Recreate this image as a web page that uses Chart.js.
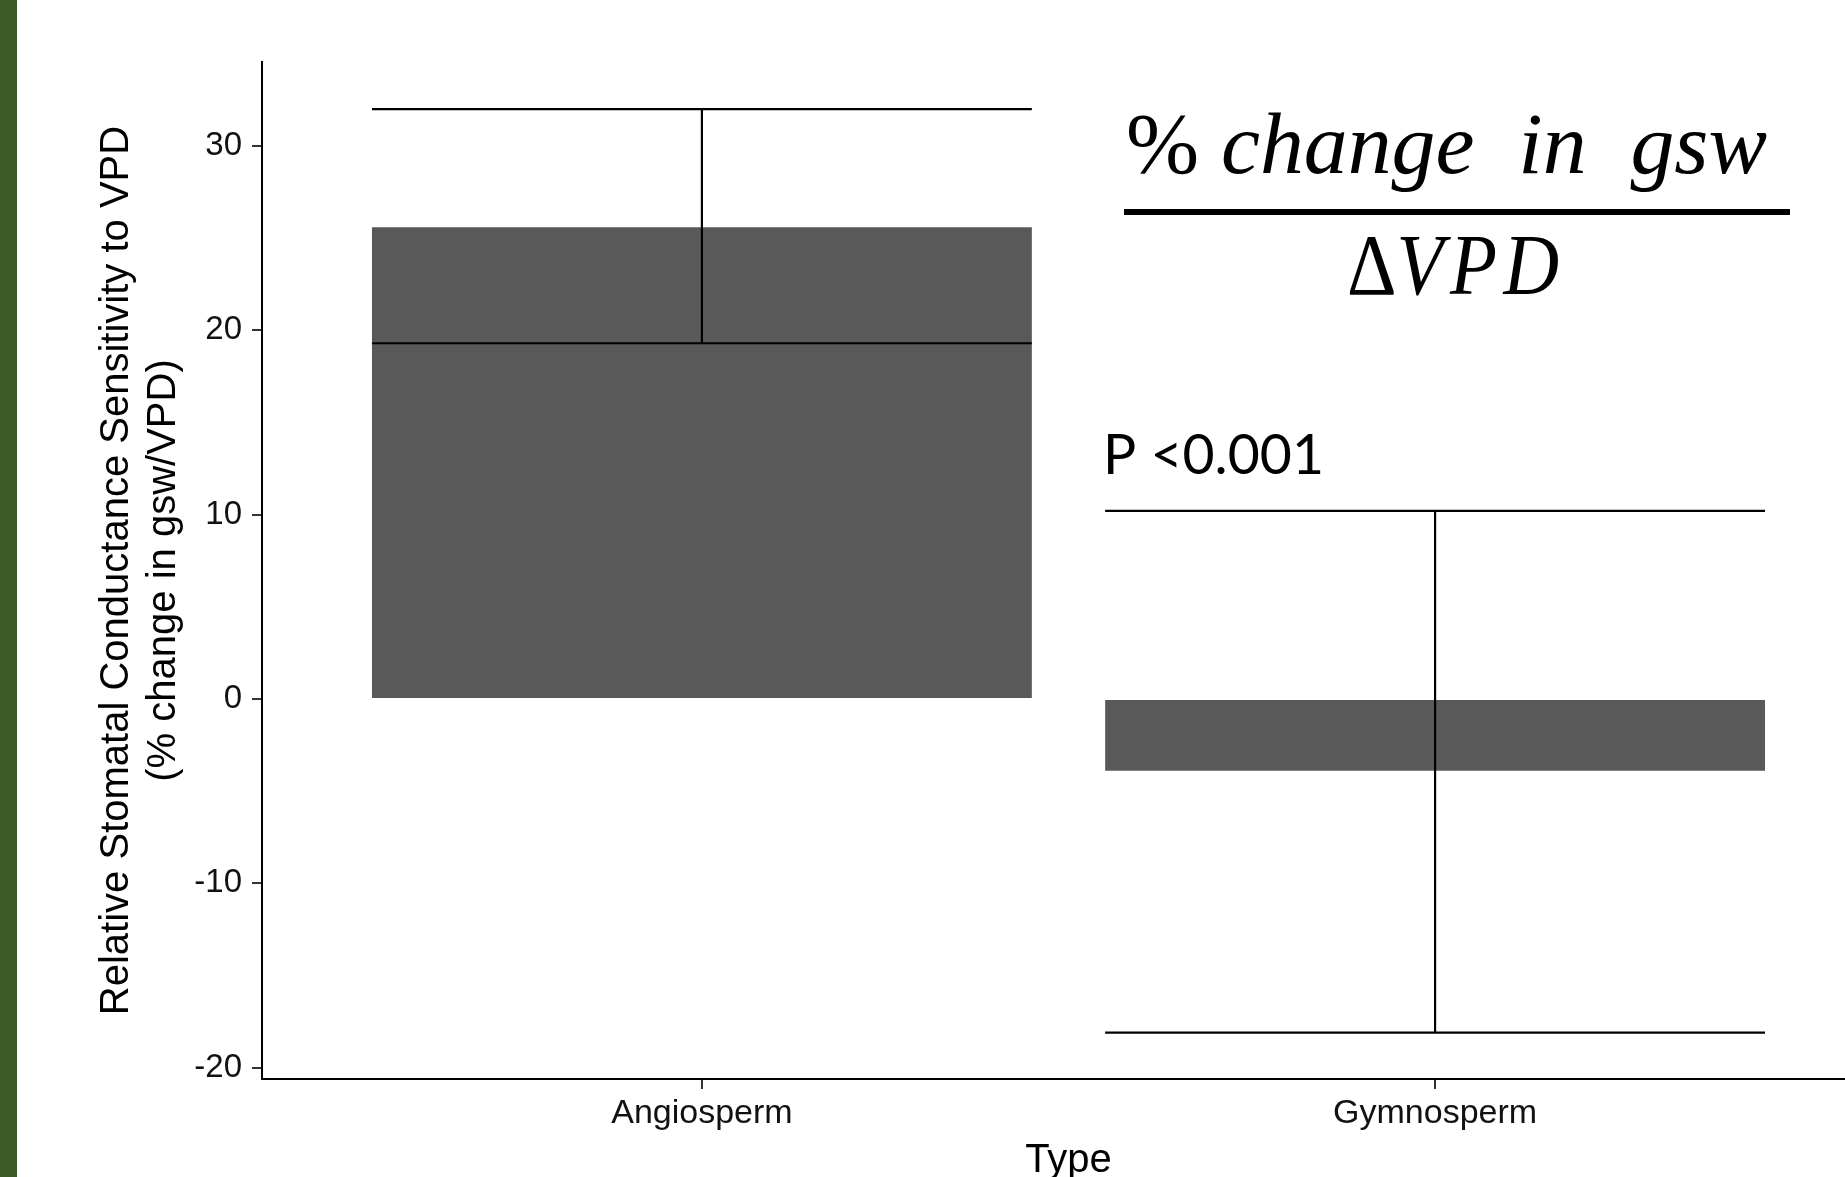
<!DOCTYPE html>
<html>
<head>
<meta charset="utf-8">
<title>Stomatal conductance sensitivity to VPD</title>
<script src="https://cdn.jsdelivr.net/npm/chart.js@4/dist/chart.umd.min.js"></script>
<style>
    html, body { margin: 0; padding: 0; background: #fff; overflow: hidden; }
    #wrap { position: relative; width: 1880px; height: 1200px; }
    #stripe { position: absolute; left: 0; top: 0; width: 17px; height: 1177px; background: #3c5a27; z-index: 2; }
    #chart { position: absolute; left: 0; top: 0; }
</style>
</head>
<body>
<div id="wrap">
    <div id="stripe"></div>
    <canvas id="chart" width="1880" height="1200"></canvas>
</div>
<script>
// ============================================
// Data
// ============================================
var categories = ['Angiosperm', 'Gymnosperm'];
var meanValues = [25.6, -3.9];
var errHigh = [32.0, 10.2];
var errLow = [19.3, -18.1];
var yTicks = [-20, -10, 0, 10, 20, 30];

var yTitle = ['Relative Stomatal Conductance Sensitivity to VPD', '(% change in gsw/VPD)'];
var xTitle = 'Type';
var pLabel = 'P <0.001';

// Error bars drawn on top of the bars
var errorBarPlugin = {
    id: 'errorBars',
    afterDatasetsDraw: function(chart) {
        var ctx = chart.ctx;
        var xs = chart.scales.x, ys = chart.scales.y;
        var meta = chart.getDatasetMeta(0);
        ctx.save();
        ctx.strokeStyle = '#000';
        ctx.lineWidth = 2.2;
        for (var i = 0; i < categories.length; i++) {
            var cx = xs.getPixelForValue(i + 1);
            var half = meta.data[i].width / 2;
            var yh = ys.getPixelForValue(errHigh[i]);
            var yl = ys.getPixelForValue(errLow[i]);
            ctx.beginPath();
            ctx.moveTo(cx - half, yh); ctx.lineTo(cx + half, yh);
            ctx.moveTo(cx - half, yl); ctx.lineTo(cx + half, yl);
            ctx.moveTo(cx, yh); ctx.lineTo(cx, yl);
            ctx.stroke();
        }
        ctx.restore();
    }
};

// draws pieces of text squeezed into a given width
function fitText(ctx, parts, left, baseline, width) {
    var total = 0;
    for (var i = 0; i < parts.length; i++) {
        ctx.font = parts[i].font;
        total += ctx.measureText(parts[i].text).width;
    }
    ctx.save();
    ctx.translate(left, baseline);
    ctx.scale(width / total, 1);
    var x = 0;
    for (var j = 0; j < parts.length; j++) {
        ctx.font = parts[j].font;
        ctx.fillText(parts[j].text, x, 0);
        x += ctx.measureText(parts[j].text).width;
    }
    ctx.restore();
}

// Formula and p-value annotations
var notesPlugin = {
    id: 'notes',
    afterDraw: function(chart) {
        var ctx = chart.ctx;
        ctx.save();
        ctx.fillStyle = '#000';
        ctx.textBaseline = 'alphabetic';
        ctx.textAlign = 'left';
        var up = '86px "Liberation Serif"';
        var it = 'italic 86px "Liberation Serif"';
        fitText(ctx, [{ text: '%', font: up }, { text: ' change  in  gsw', font: it }], 1126, 173, 641);
        ctx.fillRect(1124, 209, 666, 6);
        fitText(ctx, [{ text: '\u0394', font: up }, { text: 'V\u200aP\u200aD', font: it }], 1347, 294, 212);
        fitText(ctx, [{ text: pLabel, font: '57px Lato' }], 1103, 474, 221);
        ctx.restore();
    }
};

document.addEventListener('DOMContentLoaded', function() {
    var ctx = document.getElementById('chart').getContext('2d');
    var points = [];
    for (var i = 0; i < categories.length; i++) {
        points.push({ x: i + 1, y: meanValues[i] });
    }

    new Chart(ctx, {
        type: 'bar',
        data: {
            datasets: [{
                data: points,
                backgroundColor: '#595959',
                borderWidth: 0,
                categoryPercentage: 0.9,
                barPercentage: 1.0
            }]
        },
        options: {
            responsive: false,
            animation: false,
            devicePixelRatio: 1,
            layout: { padding: { left: 0, top: 62, right: 5, bottom: 0 } },
            plugins: { legend: { display: false }, tooltip: { enabled: false } },
            scales: {
                x: {
                    type: 'linear',
                    offset: false,
                    min: 0.4,
                    max: 2.6,
                    afterBuildTicks: function(scale) {
                        scale.ticks = categories.map(function(c, i) { return { value: i + 1 }; });
                    },
                    afterFit: function(scale) { scale.height = 121; },
                    border: { display: true, color: '#000', width: 2 },
                    grid: { display: true, offset: false, drawOnChartArea: false, drawTicks: true, tickLength: 10, color: '#333', lineWidth: 2 },
                    ticks: {
                        padding: 4,
                        color: '#111',
                        font: { family: 'Liberation Sans', size: 34 },
                        callback: function(v) { return categories[v - 1]; }
                    },
                    title: {
                        display: true,
                        text: xTitle,
                        color: '#000',
                        padding: { top: 0, bottom: 15 },
                        font: { family: 'Liberation Sans', size: 40, lineHeight: 1.2 }
                    }
                },
                y: {
                    min: -20.62,
                    max: 34.56,
                    afterBuildTicks: function(scale) {
                        scale.ticks = yTicks.map(function(v) { return { value: v }; });
                    },
                    afterFit: function(scale) { scale.width = 262; },
                    border: { display: true, color: '#000', width: 2 },
                    grid: { display: true, drawOnChartArea: false, drawTicks: true, tickLength: 10, color: '#333', lineWidth: 2 },
                    ticks: {
                        padding: 10,
                        color: '#111',
                        font: { family: 'Liberation Sans', size: 33 }
                    },
                    title: {
                        display: true,
                        text: yTitle,
                        color: '#000',
                        padding: { top: 94, bottom: 0 },
                        font: { family: 'Liberation Sans', size: 40, lineHeight: 1.17 }
                    }
                }
            }
        },
        plugins: [errorBarPlugin, notesPlugin]
    });
});
</script>
</body>
</html>
